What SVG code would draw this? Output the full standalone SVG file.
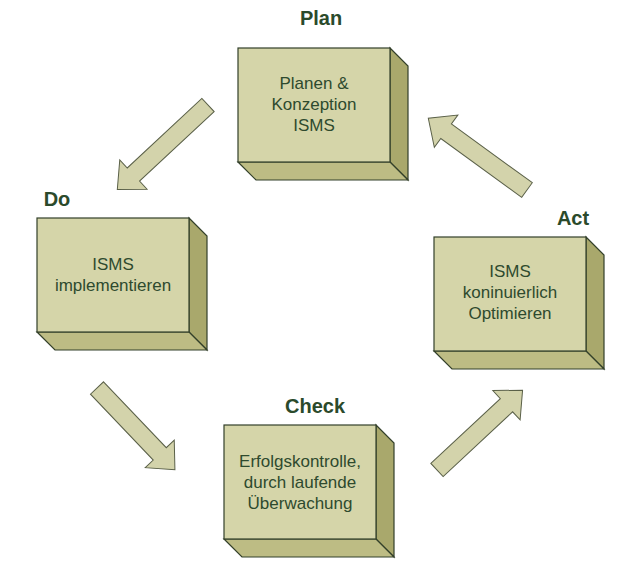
<svg xmlns="http://www.w3.org/2000/svg" width="643" height="577" viewBox="0 0 643 577">
<style>
.f{fill:#d5d5a9;stroke:#33402a;stroke-width:1.2}
.s{fill:#a9a86c;stroke:#33402a;stroke-width:1.2}
.b{fill:#bdbc84;stroke:#33402a;stroke-width:1.2}
.t{font-family:"Liberation Sans",Arial,sans-serif;font-size:17px;fill:#2e4a2e;text-anchor:middle}
.h{font-family:"Liberation Sans",Arial,sans-serif;font-size:20px;font-weight:bold;fill:#2b4a2b;text-anchor:middle}
.a{fill:#d3d3ab;stroke:#5a6048;stroke-width:1}
</style>
<defs>
<g id="box">
<polygon class="s" points="152,0 170,18 170,132 152,114"/>
<polygon class="b" points="0,114 152,114 170,132 18,132"/>
<rect class="f" x="0" y="0" width="152" height="114"/>
</g>
</defs>
<g id="connectors">
<polygon class="a" transform="translate(208,105) rotate(137)" points="0,-9 102,-9 102,-20 124,0 102,20 102,9 0,9"/>
<polygon class="a" transform="translate(97,388) rotate(46.4)" points="0,-9 91,-9 91,-20 113,0 91,20 91,9 0,9"/>
<polygon class="a" transform="translate(437,470) rotate(-43)" points="0,-9 95,-9 95,-20 117,0 95,20 95,9 0,9"/>
<polygon class="a" transform="translate(527,190) rotate(216)" points="0,-9 100,-9 100,-20 122,0 100,20 100,9 0,9"/>
</g>
<g id="plan">
<use href="#box" x="238" y="48"/>
<text class="h" x="321" y="25">Plan</text>
<text class="t" x="314" y="89">Planen &amp;</text>
<text class="t" x="314" y="110">Konzeption</text>
<text class="t" x="314" y="131">ISMS</text>
</g>
<g id="do">
<use href="#box" x="37" y="218"/>
<text class="h" x="57" y="206">Do</text>
<text class="t" x="113" y="270">ISMS</text>
<text class="t" x="113" y="291">implementieren</text>
</g>
<g id="act">
<use href="#box" x="434" y="237"/>
<text class="h" x="573" y="225">Act</text>
<text class="t" x="510" y="277">ISMS</text>
<text class="t" x="510" y="298">koninuierlich</text>
<text class="t" x="510" y="319">Optimieren</text>
</g>
<g id="check">
<use href="#box" x="224" y="425"/>
<text class="h" x="315" y="413">Check</text>
<text class="t" x="300" y="467">Erfolgskontrolle,</text>
<text class="t" x="300" y="488">durch laufende</text>
<text class="t" x="300" y="509">Überwachung</text>
</g>
</svg>
